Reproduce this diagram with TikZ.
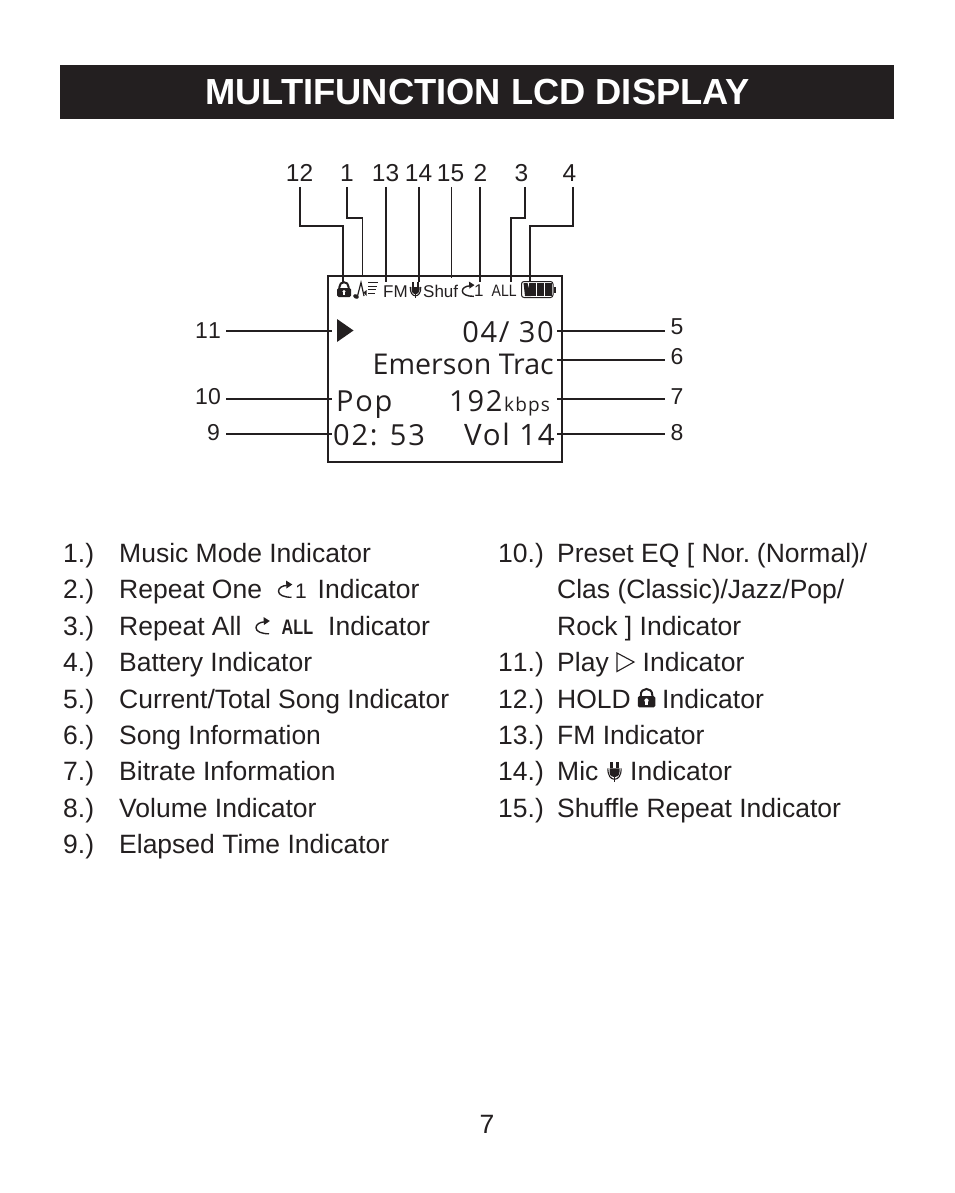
\documentclass[tikz,border=0pt]{standalone}
\usepackage{fontspec}
\setmainfont{Liberation Sans}
\newfontfamily\lcdfont[LetterSpace=6]{Open Sans}
\newfontfamily\lcdtight{Open Sans}
\definecolor{ink}{HTML}{231F20}
\tikzset{
  x=1pt,y=-1pt,
  lbl/.style={anchor=base west,inner sep=0pt,text=ink,font=\fontsize{26.5}{26.5}\selectfont},
  num/.style={anchor=base,inner sep=0pt,text=ink,font=\fontsize{24.5}{24.5}\selectfont},
  sidenum/.style={inner sep=0pt,text=ink,font=\fontsize{23}{23}\selectfont},
  lcd/.style={anchor=base west,inner sep=0pt,text=ink},
  conn/.style={draw=ink,line width=1.5pt,line join=miter},
  thinconn/.style={draw=ink,line width=0.8pt},
  pics/lockicon/.style={code={
    \fill[ink,rounded corners=1.5] (-7,-1.5) rectangle (7,7.5);
    \draw[ink,line width=2pt] (-4.6,-1) -- (-4.6,-2.5) .. controls (-4.6,-8.8) and (4.6,-8.8) .. (4.6,-2.5) -- (4.6,-1);
    \fill[white] (0,2) circle (1.7);
    \fill[white] (-0.9,2.5) rectangle (0.9,5.5);
  }},
  pics/micicon/.style={code={
    \fill[ink] (-4,-3) -- (4,-3) -- (4,0) .. controls (4,3) and (2,4.2) .. (0,4.2) .. controls (-2,4.2) and (-4,3) .. (-4,0) -- cycle;
    \fill[ink] (-3.4,-8) rectangle (-1.2,-3);
    \fill[ink] (1.2,-8) rectangle (3.4,-3);
    \draw[ink,line width=1pt] (0,4) -- (0,8);
    \draw[ink,line width=1.1pt] (-5.3,-3) .. controls (-5.4,3) and (-3,5.8) .. (0,5.8) .. controls (3,5.8) and (5.4,3) .. (5.3,-3);
  }},
  pics/repeaticon/.style={code={
    \draw[ink,line width=1.4pt] (2,-4.2) .. controls (-3.5,-4) and (-7,-1.5) .. (-7,1.8) .. controls (-7,5.5) and (-1.5,7.8) .. (6,7.8);
    \fill[ink] (0.5,-9) -- (6.8,-5) -- (1,-1) -- cycle;
  }},
  pics/noteicon/.style={code={
    \draw[ink,line width=1.2pt] (-4.5,6) -- (-1,-7.5) -- (2,6);
    \fill[ink,rotate around={-30:(-6,6.5)}] (-6,6.5) ellipse (2.9 and 2.1);
    \fill[ink] (1.5,2.5) -- (4.5,0) -- (4.5,6) -- cycle;
    \foreach \y/\w in {-7.5/16,-4/15,-0.5/14,3/13}{\draw[ink,line width=0.9pt] (6,\y) -- (\w,\y);}
  }},
  pics/batteryicon/.style={code={
    \draw[ink,line width=1pt,rounded corners=2.5] (-16.5,-8) rectangle (15,8);
    \fill[ink] (15.5,-3) rectangle (17.5,3);
    \fill[ink] (-14.5,-6.5) -- (-10.5,-6.5) -- (-7,6.5) -- (-13,6.5) -- cycle;
    \fill[ink] (-9,-6.5) rectangle (-2.5,6.5);
    \fill[ink] (-1,-6.5) rectangle (5.5,6.5);
    \fill[ink] (7,-6.5) rectangle (13.5,6.5);
  }},
}
\begin{document}
\begin{tikzpicture}
\useasboundingbox (0,0) rectangle (954,1193);
% title band
\node[fill=ink,minimum width=834pt,minimum height=54pt,inner sep=0pt,outer sep=0pt,anchor=north west] (band) at (60,65) {};
\node[anchor=base,inner sep=0pt,text=white,font=\bfseries\fontsize{36.3}{36.3}\selectfont] (title) at (477.5,105) {MULTIFUNCTION LCD DISPLAY};

% LCD frame
\node[draw=ink,line width=2pt,minimum width=234pt,minimum height=186pt,inner sep=0pt,outer sep=0pt,anchor=north west] (frame) at (328,276) {};

% top numbers
\node[num] (n12) at (299.5,182) {12};
\node[num] (n1) at (347,182) {1};
\node[num] (n13) at (385.5,182) {13};
\node[num] (n14) at (418.5,182) {14};
\node[num] (n15) at (450.5,182) {15};
\node[num] (n2) at (480.5,182) {2};
\node[num] (n3) at (521.5,182) {3};
\node[num] (n4) at (569.5,182) {4};
% side numbers
\node[sidenum,anchor=base east] (n11) at (221,338) {1\kern0pt 1};
\node[sidenum,anchor=base east] (n10) at (221,404) {10};
\node[sidenum,anchor=base east] (n9) at (220,440) {9};
\node[sidenum,anchor=base west] (n5) at (670.5,334) {5};
\node[sidenum,anchor=base west] (n6) at (670.5,364) {6};
\node[sidenum,anchor=base west] (n7) at (670.5,404) {7};
\node[sidenum,anchor=base west] (n8) at (670.5,440) {8};

% connector ends
\coordinate (e12) at (343,283);
\coordinate (e1) at (362.5,277);
\coordinate (e13) at (386,282);
\coordinate (e14) at (419,282);
\coordinate (e15) at (451.5,278);
\coordinate (e2) at (480,282);
\coordinate (e3) at (511,282);
\coordinate (e4) at (530,282);
\coordinate (s12) at (300,187);
\coordinate (s1) at (347,187);
\coordinate (s13) at (386,187);
\coordinate (s14) at (419,187);
\coordinate (s15) at (451.5,187);
\coordinate (s2) at (480,187);
\coordinate (s3) at (525,187);
\coordinate (s4) at (573,187);
\draw[conn] (s12) -- (s12 |- 0,226) -- (e12 |- 0,226) -- (e12);
\draw[conn] (s1) -- (s1 |- 0,218) -- (e1 |- 0,218) -- (e1);
\draw[conn] (s13) -- (e13);
\draw[conn] (s14) -- (e14);
\draw[thinconn] (s15) -- (e15);
\draw[conn] (s2) -- (e2);
\draw[conn] (s3) -- (s3 |- 0,218) -- (e3 |- 0,218) -- (e3);
\draw[conn] (s4) -- (s4 |- 0,226) -- (e4 |- 0,226) -- (e4);

\coordinate (l11) at (226,331);
\coordinate (r11) at (332,331);
\coordinate (l10) at (226,399);
\coordinate (r10) at (332,399);
\coordinate (l9) at (226,434);
\coordinate (r9) at (332,434);
\coordinate (l5) at (557,331);
\coordinate (r5) at (665,331);
\coordinate (l6) at (557,360);
\coordinate (r6) at (665,360);
\coordinate (l7) at (557,399);
\coordinate (r7) at (665,399);
\coordinate (l8) at (557,434);
\coordinate (r8) at (665,434);
\foreach \a/\b in {l11/r11,l10/r10,l9/r9,l5/r5,l6/r6,l7/r7,l8/r8}{\draw[conn] (\a) -- (\b);}

% status row
\pic at (344,289.5) {lockicon};
\pic at (362,290) {noteicon};
\node[lcd,font=\fontsize{17}{17}\selectfont] (fm) at (383,297) {FM};
\pic at (415.5,290) {micicon};
\node[lcd,font=\fontsize{17}{17}\selectfont] (shuf) at (423,297) {Shuf};
\pic[scale=0.88] at (468.5,289.5) {repeaticon};
\node[lcd,font=\fontsize{17}{17}\selectfont] (one) at (474,296.5) {1};
\node[lcd,font=\fontsize{16.5}{16.5}\selectfont] (allb) at (491.5,296) {\scalebox{.85}[1]{ALL}};
\pic at (538,289.5) {batteryicon};

% LCD content
\fill[ink] (337,319) -- (353.5,330.5) -- (337,342) -- cycle;
\node[lcd,anchor=base east,font=\lcdfont\fontsize{29}{29}\selectfont] (cnt) at (554,342) {04/ 30};
\node[lcd,anchor=base east,font=\lcdtight\fontsize{28.6}{28.6}\selectfont] (song) at (554,374) {Emerson Trac};
\node[lcd,font=\lcdfont\fontsize{29}{29}\selectfont] (eq) at (336,411) {Pop};
\node[lcd,font=\lcdfont\fontsize{29}{29}\selectfont] (rate) at (449,411) {192};
\node[lcd,font=\lcdfont\fontsize{19}{19}\selectfont] (kbps) at (504,411) {kbps};
\node[lcd,font=\lcdfont\fontsize{29}{29}\selectfont] (elapsed) at (333,445) {02: 53};
\node[lcd,anchor=base east,font=\lcdfont\fontsize{29.5}{29.5}\selectfont] (vol) at (555,445) {Vol 14};

% legend left
\node[lbl] (a1) at (63,562.4) {1.)};
\node[lbl] (t1) at (119,562.4) {Music Mode Indicator};
\node[lbl] (a2) at (63,598.8) {2.)};
\node[lbl] (t2) at (119,598.8) {Repeat One};
\pic at (285.5,589.5) {repeaticon};
\node[lcd,font=\fontsize{21}{21}\selectfont] (t2one) at (295,598.5) {1};
\node[lbl] (t2b) at (317.5,598.8) {Indicator};
\node[lbl] (a3) at (63,635.2) {3.)};
\node[lbl] (t3) at (119,635.2) {Repeat All};
\pic at (263,626) {repeaticon};
\node[lcd,font=\bfseries\fontsize{21}{21}\selectfont] (t3all) at (281.5,634) {\scalebox{.77}[1]{ALL}};
\node[lbl] (t3b) at (328,635.2) {Indicator};
\node[lbl] (a4) at (63,671.6) {4.)};
\node[lbl] (t4) at (119,671.6) {Battery Indicator};
\node[lbl] (a5) at (63,708) {5.)};
\node[lbl] (t5) at (119,708) {Current/Total Song Indicator};
\node[lbl] (a6) at (63,744.4) {6.)};
\node[lbl] (t6) at (119,744.4) {Song Information};
\node[lbl] (a7) at (63,780.8) {7.)};
\node[lbl] (t7) at (119,780.8) {Bitrate Information};
\node[lbl] (a8) at (63,817.2) {8.)};
\node[lbl] (t8) at (119,817.2) {Volume Indicator};
\node[lbl] (a9) at (63,853.6) {9.)};
\node[lbl] (t9) at (119,853.6) {Elapsed Time Indicator};

% legend right
\node[lbl] (a10) at (498,562.4) {10.)};
\node[lbl] (t10) at (557,562.4) {Preset EQ [ Nor.\kern-3pt{} (Normal)/};
\node[lbl] (t10b) at (557,598.8) {Clas (Classic)/Jazz/Pop/};
\node[lbl] (t10c) at (557,635.2) {Rock ] Indicator};
\node[lbl] (a11) at (498,671.6) {1\kern0pt 1.)};
\node[lbl] (t11) at (557,671.6) {Play};
\draw[ink,line width=1.1pt] (617,653) -- (634,662) -- (617,671.5) -- cycle;
\node[lbl] (t11b) at (642.5,671.6) {Indicator};
\node[lbl] (a12) at (498,708) {12.)};
\node[lbl] (t12) at (557,708) {HOLD};
\pic[scale=1.25] at (646.5,698) {lockicon};
\node[lbl] (t12b) at (662,708) {Indicator};
\node[lbl] (a13) at (498,744.4) {13.)};
\node[lbl] (t13) at (557,744.4) {FM Indicator};
\node[lbl] (a14) at (498,780.8) {14.)};
\node[lbl] (t14) at (557,780.8) {Mic};
\pic[scale=1.25] at (614.5,772) {micicon};
\node[lbl] (t14b) at (630,780.8) {Indicator};
\node[lbl] (a15) at (498,817.2) {15.)};
\node[lbl] (t15) at (557,817.2) {Shuffle Repeat Indicator};

\node[lbl] (page) at (479.5,1133) {7};
\end{tikzpicture}
\end{document}
